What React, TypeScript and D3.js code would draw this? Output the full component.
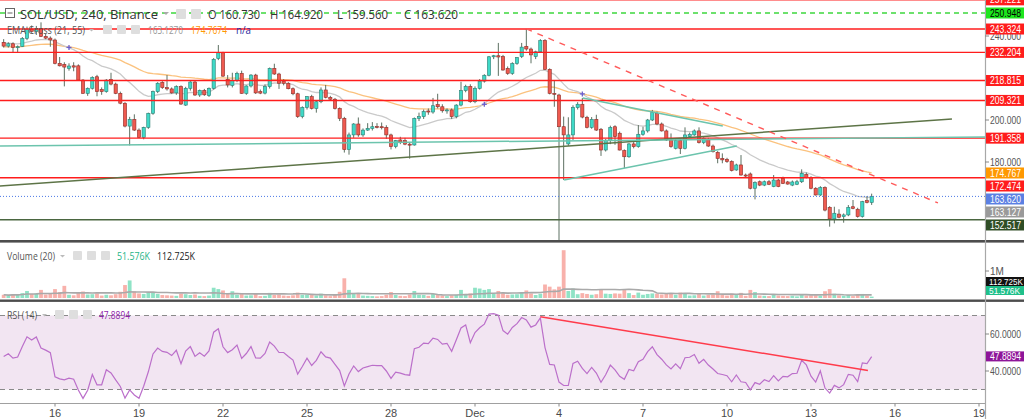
import React from 'react';
import * as d3 from 'd3';

// ---------------- DATA ----------------
// 4h candles, SOL/USD Binance, from 2021-11-14 04:00 UTC : [open, high, low, close]
const ohlc: [number, number, number, number][] = [
  [237.0, 238.5, 234.5, 235.2], [235.2, 237.0, 234.5, 236.3], [236.3, 237.0, 231.9, 234.5], [234.5, 235.5, 232.0, 234.9],
  [235.0, 239.5, 234.8, 238.9], [238.9, 244.5, 238.0, 243.3], [243.3, 245.0, 241.5, 242.2], [242.2, 244.8, 240.5, 243.6],
  [243.6, 246.5, 239.5, 239.8], [239.8, 241.0, 238.5, 239.0], [239.0, 239.8, 234.9, 238.1], [238.1, 238.8, 226.5, 227.0],
  [227.0, 230.0, 225.5, 225.8], [226.5, 227.5, 216.0, 225.2], [224.6, 227.0, 223.5, 225.7], [225.8, 227.5, 223.2, 225.2],
  [225.8, 226.5, 218.8, 219.0], [219.0, 219.5, 212.5, 212.7], [212.7, 215.5, 211.5, 215.1], [215.1, 220.8, 214.5, 220.3],
  [220.6, 221.5, 211.3, 213.5], [214.5, 215.5, 212.0, 213.5], [213.5, 219.5, 213.0, 219.0], [219.3, 222.5, 216.5, 217.1],
  [217.1, 217.8, 212.3, 212.7], [212.7, 213.5, 207.5, 208.0], [207.9, 208.5, 196.5, 197.1], [197.1, 201.5, 187.9, 200.3],
  [200.3, 202.7, 194.8, 195.2], [195.2, 196.0, 191.5, 191.7], [191.7, 196.8, 190.8, 196.5], [196.5, 203.5, 195.8, 203.2],
  [203.2, 214.0, 202.5, 213.5], [213.5, 218.0, 212.8, 217.5], [217.9, 218.5, 214.8, 215.4], [215.4, 221.4, 214.0, 214.8],
  [214.8, 215.5, 212.5, 212.9], [212.9, 216.5, 212.0, 215.9], [215.9, 216.5, 207.2, 207.6], [207.1, 215.8, 206.7, 215.1],
  [215.1, 218.5, 214.0, 218.1], [218.1, 218.8, 211.5, 211.9], [211.9, 214.5, 211.0, 214.1], [214.1, 214.8, 211.5, 212.0],
  [211.6, 215.5, 211.0, 215.1], [215.1, 229.5, 214.5, 228.9], [229.3, 235.7, 228.5, 232.0], [232.0, 232.5, 220.5, 220.9],
  [219.3, 221.4, 215.5, 216.7], [216.5, 222.5, 215.5, 218.8], [218.8, 223.0, 218.0, 222.2], [222.2, 223.5, 212.5, 212.7],
  [212.7, 216.5, 212.0, 216.2], [216.2, 221.8, 215.5, 221.4], [221.4, 222.0, 212.4, 212.9], [213.5, 214.5, 212.3, 212.8],
  [212.8, 217.0, 212.2, 215.9], [215.9, 225.0, 215.0, 224.6], [224.6, 226.8, 221.5, 221.9], [221.9, 222.5, 214.8, 217.5],
  [218.5, 219.5, 216.5, 217.5], [217.5, 218.0, 214.6, 214.9], [214.9, 215.5, 211.8, 212.5], [212.5, 213.0, 201.0, 201.6],
  [201.6, 206.5, 200.8, 206.0], [206.0, 211.4, 205.0, 211.1], [211.1, 212.0, 205.0, 205.5], [205.5, 209.0, 203.5, 208.7],
  [208.7, 215.5, 208.0, 214.3], [214.3, 216.7, 210.3, 210.8], [210.8, 211.5, 209.5, 209.9], [209.9, 210.5, 205.0, 205.5],
  [205.5, 206.0, 199.5, 200.8], [200.8, 201.5, 184.5, 185.9], [185.9, 194.0, 183.5, 192.9], [192.9, 198.5, 191.5, 198.1],
  [198.1, 201.2, 192.0, 192.9], [192.9, 196.0, 192.0, 195.2], [195.2, 198.5, 194.8, 196.0], [196.0, 199.0, 195.0, 196.8],
  [196.9, 198.5, 196.0, 196.5], [196.8, 198.8, 195.5, 196.5], [196.5, 197.5, 191.0, 192.9], [192.9, 193.5, 186.0, 187.3],
  [187.3, 190.5, 186.5, 190.2], [190.5, 192.0, 188.5, 189.5], [190.2, 191.5, 188.0, 188.5], [188.5, 189.5, 181.6, 188.1],
  [188.1, 201.2, 187.8, 200.8], [200.8, 203.5, 199.5, 201.6], [201.6, 205.0, 200.5, 204.0], [204.3, 205.5, 202.5, 203.8],
  [203.8, 210.5, 203.0, 206.8], [207.3, 212.5, 205.5, 206.3], [206.3, 207.5, 203.5, 204.4], [204.4, 205.5, 203.0, 204.8],
  [204.8, 205.5, 200.5, 201.6], [201.6, 207.5, 200.8, 207.1], [207.1, 218.2, 206.5, 214.0], [214.0, 216.8, 213.2, 216.0],
  [216.0, 217.0, 208.2, 208.7], [208.7, 216.0, 208.0, 215.1], [215.1, 219.5, 214.5, 218.5], [218.5, 221.8, 217.8, 221.3],
  [221.3, 230.5, 220.8, 230.1], [230.1, 231.0, 229.0, 230.6], [230.6, 236.7, 221.0, 230.0], [230.2, 231.0, 223.5, 223.8],
  [224.6, 225.5, 221.5, 222.2], [222.2, 227.5, 221.5, 226.9], [226.9, 230.0, 226.3, 229.7], [230.2, 236.7, 229.5, 234.7],
  [235.1, 243.4, 233.0, 233.8], [233.8, 234.5, 227.0, 231.0], [230.2, 233.0, 229.0, 232.5], [232.5, 238.5, 232.0, 237.8],
  [237.8, 238.5, 223.8, 224.1], [224.1, 224.6, 212.2, 212.7], [212.7, 219.0, 206.3, 212.3], [211.9, 212.5, 120.0, 196.8],
  [196.8, 201.6, 171.4, 192.9], [188.6, 201.3, 187.7, 192.9], [192.9, 207.0, 190.5, 206.0], [205.9, 208.5, 205.0, 207.5],
  [207.5, 210.5, 200.8, 201.4], [201.3, 202.0, 196.0, 196.5], [196.5, 201.4, 195.8, 200.3], [200.3, 202.5, 194.8, 195.2],
  [195.6, 196.2, 182.9, 185.7], [185.7, 191.0, 185.0, 190.2], [190.2, 197.3, 188.5, 196.5], [196.8, 197.5, 188.2, 192.1],
  [193.7, 194.5, 185.5, 185.7], [185.4, 186.0, 177.1, 182.5], [182.5, 189.0, 182.0, 188.6], [188.6, 189.5, 186.5, 187.3],
  [187.3, 197.6, 186.8, 193.2], [193.2, 196.8, 192.5, 194.8], [194.8, 200.5, 194.0, 200.0], [200.0, 204.8, 199.5, 203.5],
  [203.2, 204.0, 197.5, 198.1], [198.1, 198.8, 194.5, 194.8], [194.8, 195.5, 190.0, 190.5], [190.5, 193.6, 186.8, 187.3],
  [186.5, 190.8, 186.0, 190.2], [190.2, 190.8, 183.8, 186.5], [186.5, 196.5, 186.0, 192.9], [192.1, 194.0, 191.5, 193.2],
  [192.9, 195.5, 192.5, 194.8], [194.8, 196.5, 188.8, 189.2], [189.2, 191.8, 188.5, 191.3], [190.8, 191.5, 187.2, 187.6],
  [187.6, 188.3, 184.5, 184.9], [184.6, 185.2, 179.4, 181.7], [181.7, 184.1, 179.4, 181.0], [181.3, 182.0, 179.6, 180.2],
  [180.2, 180.8, 175.5, 175.9], [176.2, 179.2, 175.8, 178.6], [178.6, 183.3, 173.5, 173.8], [173.8, 174.5, 172.8, 173.3],
  [174.3, 175.0, 167.0, 167.5], [167.5, 170.8, 162.2, 170.2], [170.6, 171.2, 168.5, 169.0], [169.0, 171.2, 168.5, 170.6],
  [170.6, 171.4, 169.0, 169.4], [168.3, 173.8, 168.0, 171.4], [171.4, 172.0, 168.0, 168.3], [172.2, 173.0, 169.5, 169.8],
  [170.5, 171.0, 169.2, 169.5], [169.0, 171.2, 168.5, 170.5], [169.4, 171.5, 169.0, 170.6], [170.6, 176.5, 170.0, 174.6],
  [174.1, 175.0, 172.2, 172.7], [172.7, 173.2, 167.0, 167.5], [167.5, 168.0, 164.0, 164.3], [164.3, 168.5, 163.8, 167.8],
  [167.8, 168.4, 156.5, 157.1], [158.4, 159.0, 149.2, 152.9], [152.9, 158.7, 150.8, 155.6], [155.2, 157.5, 153.2, 153.7],
  [154.0, 155.5, 151.1, 154.8], [154.8, 159.5, 154.2, 158.4], [158.7, 161.9, 157.5, 157.9], [157.5, 158.2, 153.5, 154.0],
  [154.0, 161.5, 153.5, 161.1], [161.6, 163.8, 160.3, 160.73], [160.73, 164.92, 159.56, 163.62],
];

// volume per candle, thousands
const volumesK: number[] = [
  120, 90, 140, 110, 180, 260, 150, 170, 300, 130,
  160, 330, 220, 450, 120, 100, 210, 240, 130, 140,
  170, 90, 120, 100, 140, 230, 480, 650, 250, 170,
  150, 200, 220, 150, 110, 100, 90, 80, 160, 140,
  110, 130, 80, 70, 90, 380, 330, 280, 150, 250,
  120, 160, 90, 100, 150, 70, 80, 190, 110, 130,
  90, 80, 100, 200, 120, 130, 110, 90, 160, 100,
  70, 120, 230, 730, 300, 160, 170, 90, 80, 70,
  60, 70, 120, 220, 110, 80, 70, 130, 260, 120,
  110, 80, 150, 110, 90, 70, 100, 120, 300, 150,
  170, 380, 350, 300, 330, 150, 260, 180, 120, 130,
  140, 200, 280, 170, 110, 160, 500, 420, 320, 420,
  1770, 260, 350, 140, 180, 150, 120, 140, 300, 160,
  150, 170, 160, 320, 180, 110, 200, 120, 150, 170,
  160, 130, 150, 170, 120, 200, 180, 90, 100, 160,
  90, 110, 130, 250, 110, 90, 160, 110, 190, 80,
  300, 220, 90, 80, 70, 110, 90, 80, 70, 80,
  60, 140, 90, 100, 100, 80, 250, 330, 160, 100,
  80, 110, 70, 120, 150, 90, 51.576,
];

const startTime = Date.UTC(2021, 10, 14, 4);
const barMs = 4 * 3600 * 1000;

// red horizontal levels drawn on chart
const redLevels = [257.221, 243.324, 232.204, 218.815, 209.321, 191.358, 172.474];
const targetLevel = 250.948;
const supportLevel = 152.517;
const lastPrice = 163.62;
const ema21Last = 163.127;
const ema55Last = 174.767;
const priceTicks = [180, 200, 240];
const rsiTicks = [40, 60];
const rsiLast = 47.8894;
const volLastK = 51.576;
const volMaLastK = 112.725;
const ema21Seed = 236.7;
const ema55Seed = 234.8;
const rsiSeedGain = 1.5;
const rsiSeedLoss = 1.5;

// drawings as [barIndex, value]
const redTrend: [number, number][] = [[112, 243.4], [200.2, 160.5]];
const oliveTrend: [number, number][] = [[-0.8, 168.6], [203.2, 200.5]];
const tealLine: [number, number][] = [[-0.8, 187.6], [210.3, 191.9]];
const triUpper: [number, number][] = [[124.1, 210.5], [154.1, 197.1]];
const triLower: [number, number][] = [[120.1, 171.4], [157.1, 187.6]];
const rsiTrend: [number, number][] = [[115, 69.3], [185.2, 40.3]];

const timeTickStart = Date.UTC(2021, 10, 16);
const timeTickEnd = Date.UTC(2021, 11, 19);

// ---------------- STYLE ----------------
const RED = '#ff1c1c';
const UP_FILL = '#3fd9c7', UP_STROKE = '#2b7d72';
const DN_FILL = '#ef5a50', DN_STROKE = '#8c2d27';
const WICK = '#5d7062';
const AXIS_X = 985;
const FONT = "'Liberation Sans', Arial, sans-serif";
const UI_FONT = "'Open Sans', 'Noto Sans', sans-serif";

export default function App() {
  React.useEffect(() => {
    document.body.style.margin = '0';
  }, []);

  const x = d3.scaleUtc().domain([new Date(timeTickStart), new Date(timeTickEnd)]).range([55, 979]);
  const xb = (i: number) => x(new Date(startTime + i * barMs));
  const y = d3.scaleLinear().domain([200, 240]).range([120, 36]);
  const yv = d3.scaleLinear().domain([0, 1000]).range([298, 271]);
  const yr = d3.scaleLinear().domain([30, 70]).range([389.5, 315.5]);

  // indicators
  const closes = ohlc.map((d) => d[3]);
  const ema21: number[] = [];
  const ema55: number[] = [];
  let e21 = ema21Seed, e55 = ema55Seed;
  closes.forEach((c) => {
    e21 = e21 + (c - e21) * (2 / 22);
    e55 = e55 + (c - e55) * (2 / 56);
    ema21.push(e21);
    ema55.push(e55);
  });
  const crosses: number[] = [];
  for (let i = 1; i < closes.length; i++) {
    const a = ema21[i - 1] - ema55[i - 1];
    const b = ema21[i] - ema55[i];
    if ((a > 0) !== (b > 0)) crosses.push(i);
  }
  const rsi: number[] = [];
  let ag = rsiSeedGain, al = rsiSeedLoss, prev = ohlc[0][0];
  closes.forEach((c) => {
    const ch = c - prev;
    ag = (ag * 13 + Math.max(ch, 0)) / 14;
    al = (al * 13 + Math.max(-ch, 0)) / 14;
    rsi.push(100 - 100 / (1 + ag / al));
    prev = c;
  });
  const volMa = volumesK.map((_, i) => {
    const s = volumesK.slice(Math.max(0, i - 19), i + 1);
    return d3.mean(s) as number;
  });

  const line = d3.line<number>().x((_, i) => xb(i));
  const emaPath = (arr: number[]) => line.y((v) => y(v))(arr) as string;
  const rsiPath = line.y((v) => yr(v))(rsi) as string;
  const volMaPath = d3.line<number>().x((_, i) => xb(i)).y((v) => yv(v))(volMa) as string;

  const seg = (pts: [number, number][], ys: (v: number) => number) => ({
    x1: xb(pts[0][0]), y1: ys(pts[0][1]), x2: xb(pts[1][0]), y2: ys(pts[1][1]),
  });

  // right axis price labels with stacking
  type Lab = { v: number; bg: string; fg: string; yy: number };
  const labs: Lab[] = [
    ...redLevels.map((v) => ({ v, bg: RED, fg: '#fff', yy: y(v) })),
    { v: targetLevel, bg: '#1ee61e', fg: '#000', yy: y(targetLevel) },
    { v: ema55Last, bg: '#ff9800', fg: '#fff', yy: y(ema55Last) },
    { v: lastPrice, bg: '#5b80e3', fg: '#fff', yy: y(lastPrice) },
    { v: ema21Last, bg: '#9a9a9a', fg: '#fff', yy: y(ema21Last) },
    { v: supportLevel, bg: '#2f4d25', fg: '#fff', yy: y(supportLevel) },
  ].sort((a, b) => a.yy - b.yy);
  for (let i = 1; i < labs.length; i++) {
    labs[i].yy = Math.max(labs[i].yy, labs[i - 1].yy + 13);
  }

  const timeTicks = x.ticks(d3.utcDay.every(3) as d3.CountableTimeInterval);
  const fmtTick = (d: Date) => (d.getUTCDate() === 1 ? d3.utcFormat('%b')(d) : String(d.getUTCDate()));

  const bw = 3.2;

  const Icon = ({ x0, y0, s = 9 }: { x0: number; y0: number; s?: number }) => (
    <rect x={x0} y={y0} width={s} height={s} rx={1} fill="#dedede" />
  );

  const volGreenY = Math.min(yv(volLastK), 298 - 7.5);
  const volBlackY = Math.min(yv(volMaLastK), volGreenY - 9);

  return (
    <svg width={1024} height={419} style={{ position: 'absolute', left: 0, top: 0, background: '#fff' }} fontFamily={FONT}>
      <defs>
        <clipPath id="pricePane"><rect x={0} y={0} width={AXIS_X} height={240} /></clipPath>
        <clipPath id="volPane"><rect x={0} y={243} width={AXIS_X} height={56} /></clipPath>
        <clipPath id="rsiPane"><rect x={0} y={302} width={AXIS_X} height={101} /></clipPath>
      </defs>
      <rect x={0} y={0} width={1024} height={419} fill="#fff" />

      {/* ---------- price pane ---------- */}
      <g clipPath="url(#pricePane)">
        {/* EMAs */}
        <path d={emaPath(ema55)} fill="none" stroke="#fbc27e" strokeWidth={1.3} />
        <path d={emaPath(ema21)} fill="none" stroke="#cacaca" strokeWidth={1.3} />
        {/* candles */}
        {ohlc.map((d, i) => {
          const [o, h, l, c] = d;
          const up = c >= o;
          const cx = xb(i);
          const top = y(Math.max(o, c));
          const bot = y(Math.min(o, c));
          return (
            <g key={i}>
              <line x1={cx} x2={cx} y1={y(h)} y2={y(l)} stroke={WICK} strokeWidth={1} />
              <rect x={cx - bw / 2} y={top} width={bw} height={Math.max(1, bot - top)}
                fill={up ? UP_FILL : DN_FILL} stroke={up ? UP_STROKE : DN_STROKE} strokeWidth={0.6} />
            </g>
          );
        })}
        {/* drawings */}
        {redLevels.map((v) => (
          <line key={v} x1={0} x2={AXIS_X} y1={y(v)} y2={y(v)} stroke={RED} strokeWidth={1.4} />
        ))}
        <line x1={0} x2={AXIS_X} y1={y(targetLevel)} y2={y(targetLevel)} stroke="#3ed83e" strokeWidth={1.4} strokeDasharray="5,4" />
        <line x1={0} x2={AXIS_X} y1={y(supportLevel)} y2={y(supportLevel)} stroke="#4a6640" strokeWidth={1.4} />
        <line x1={0} x2={AXIS_X} y1={y(lastPrice)} y2={y(lastPrice)} stroke="#4a78e6" strokeWidth={1} strokeDasharray="1,2" />
        <line {...seg(oliveTrend, y)} stroke="#5d7447" strokeWidth={1.5} />
        <line {...seg(tealLine, y)} stroke="#6cc4ad" strokeWidth={1.5} />
        <line {...seg(triUpper, y)} stroke="#6cc4ad" strokeWidth={1.5} />
        <line {...seg(triLower, y)} stroke="#6cc4ad" strokeWidth={1.5} />
        <line {...seg(redTrend, y)} stroke="#ff5a5a" strokeWidth={1.4} strokeDasharray="6,6" />
        {/* EMA cross markers */}
        {crosses.map((i) => {
          const cx = xb(i);
          const cy = y((ema21[i] + ema55[i]) / 2);
          return (
            <g key={'x' + i} stroke="#6a5fd0" strokeWidth={1.3}>
              <line x1={cx - 2.5} x2={cx + 2.5} y1={cy} y2={cy} />
              <line x1={cx} x2={cx} y1={cy - 2.5} y2={cy + 2.5} />
            </g>
          );
        })}
      </g>

      {/* legend row 1 */}
      <g fontFamily={UI_FONT}>
        <rect x={5.5} y={8.5} width={9} height={9} fill="#fff" stroke="#666" strokeWidth={1} />
        <line x1={7.5} x2={12.5} y1={13} y2={13} stroke="#666" strokeWidth={1} />
        <text x={20} y={18.5} fontSize={13} fill="#333" textLength={138} lengthAdjust="spacingAndGlyphs">SOL/USD, 240, Binance</text>
        <path d="M163,12 L169,12 L166,15 Z" fill="#aaa" />
        <Icon x0={176} y0={9} s={10} />
        <Icon x0={191} y0={9} s={10} />
        <text x={208} y={18.5} fontSize={12} fill="#333" textLength={52} lengthAdjust="spacingAndGlyphs">O 160.730</text>
        <text x={270} y={18.5} fontSize={12} fill="#333" textLength={53} lengthAdjust="spacingAndGlyphs">H 164.920</text>
        <text x={337} y={18.5} fontSize={12} fill="#333" textLength={51} lengthAdjust="spacingAndGlyphs">L 159.560</text>
        <text x={404} y={18.5} fontSize={12} fill="#333" textLength={54} lengthAdjust="spacingAndGlyphs">C 163.620</text>
        {/* legend row 2 */}
        <text x={7} y={33.5} fontSize={11} fill="#555" textLength={78} lengthAdjust="spacingAndGlyphs">EMA Cross (21, 55)</text>
        <path d="M89,29 L94,29 L91.5,31.5 Z" fill="#bbb" />
        <Icon x0={103} y0={25} />
        <Icon x0={117} y0={25} />
        <Icon x0={131} y0={25} />
        <text x={148} y={33.5} fontSize={11} fill="#9a9a9a" textLength={35} lengthAdjust="spacingAndGlyphs">163.1270</text>
        <text x={191} y={33.5} fontSize={11} fill="#ff9800" textLength={36} lengthAdjust="spacingAndGlyphs">174.7674</text>
        <text x={236} y={33.5} fontSize={11} fill="#2a2aa0" textLength={15} lengthAdjust="spacingAndGlyphs">n/a</text>
      </g>

      {/* ---------- volume pane ---------- */}
      <g clipPath="url(#volPane)">
        {volumesK.map((v, i) => {
          const up = ohlc[i][3] >= ohlc[i][0];
          return (
            <rect key={i} x={xb(i) - 1.9} y={yv(v)} width={3.8} height={298 - yv(v)}
              fill={up ? '#8fe3c6' : '#f8b1ab'} />
          );
        })}
        <path d={volMaPath} fill="none" stroke="#a9a9a9" strokeWidth={1.6} />
      </g>
      <g fontFamily={UI_FONT}>
        <text x={7} y={260} fontSize={11} fill="#555" textLength={48} lengthAdjust="spacingAndGlyphs">Volume (20)</text>
        <path d="M60,255 L65,255 L62.5,257.5 Z" fill="#bbb" />
        <Icon x0={73} y0={251} />
        <Icon x0={87} y0={251} />
        <Icon x0={101} y0={251} />
        <text x={117} y={260} fontSize={11} fill="#1fb587" textLength={33} lengthAdjust="spacingAndGlyphs">51.576K</text>
        <text x={157} y={260} fontSize={11} fill="#222" textLength={38} lengthAdjust="spacingAndGlyphs">112.725K</text>
      </g>

      {/* ---------- RSI pane ---------- */}
      <g clipPath="url(#rsiPane)">
        <rect x={0} y={yr(70)} width={AXIS_X} height={yr(30) - yr(70)} fill="#f2e5f2" />
        <line x1={0} x2={AXIS_X} y1={yr(70)} y2={yr(70)} stroke="#8a8a8a" strokeDasharray="5,4" />
        <line x1={0} x2={AXIS_X} y1={yr(30)} y2={yr(30)} stroke="#8a8a8a" strokeDasharray="5,4" />
        <path d={rsiPath} fill="none" stroke="#bb6fca" strokeWidth={1.2} />
        <line {...seg(rsiTrend, yr)} stroke="#ff3b4b" strokeWidth={1.5} />
      </g>
      <g fontFamily={UI_FONT}>
        <text x={7} y={319} fontSize={11} fill="#555" textLength={30} lengthAdjust="spacingAndGlyphs">RSI (14)</text>
        <path d="M42,314 L47,314 L44.5,316.5 Z" fill="#bbb" />
        <Icon x0={55} y0={310} />
        <Icon x0={69} y0={310} />
        <Icon x0={83} y0={310} />
        <text x={99} y={319} fontSize={11} fill="#8e24aa" textLength={31} lengthAdjust="spacingAndGlyphs">47.8894</text>
      </g>

      {/* pane separators */}
      <rect x={0} y={240} width={1024} height={2.6} fill="#4d4d4d" />
      <rect x={0} y={299.5} width={1024} height={2.4} fill="#4d4d4d" />

      {/* ---------- time axis ---------- */}
      <line x1={0} x2={AXIS_X} y1={403.5} y2={403.5} stroke="#a0a0a0" strokeWidth={1} />
      {timeTicks.map((d) => (
        <g key={d.getTime()}>
          <line x1={x(d)} x2={x(d)} y1={403.5} y2={406.5} stroke="#888" />
          <text x={x(d)} y={416.5} fontSize={11} fill="#4a4a4a" textAnchor="middle">{fmtTick(d)}</text>
        </g>
      ))}

      {/* ---------- right axis ---------- */}
      <line x1={AXIS_X + 0.5} x2={AXIS_X + 0.5} y1={0} y2={419} stroke="#a8a8a8" strokeWidth={1.2} />
      {priceTicks.map((v) => (
        <g key={'p' + v}>
          <line x1={AXIS_X} x2={AXIS_X + 4} y1={y(v)} y2={y(v)} stroke="#888" />
          <text x={990} y={y(v)} dy="0.35em" fontSize={10} fill="#555" textLength={31} lengthAdjust="spacingAndGlyphs">{v.toFixed(3)}</text>
        </g>
      ))}
      {labs.map((l) => (
        <g key={'l' + l.v}>
          <rect x={AXIS_X + 1} y={l.yy - 5.5} width={1024 - AXIS_X - 1} height={11} fill={l.bg} />
          <text x={990} y={l.yy} dy="0.36em" fontSize={10} fill={l.fg} textLength={31} lengthAdjust="spacingAndGlyphs">{l.v.toFixed(3)}</text>
        </g>
      ))}
      {/* volume axis */}
      <line x1={AXIS_X} x2={AXIS_X + 4} y1={yv(1000)} y2={yv(1000)} stroke="#888" />
      <text x={990} y={yv(1000)} dy="0.35em" fontSize={10} fill="#555">1M</text>
      <rect x={AXIS_X + 1} y={volBlackY - 4.5} width={38} height={9} fill="#111" />
      <text x={989} y={volBlackY} dy="0.36em" fontSize={9} fill="#fff" textLength={34} lengthAdjust="spacingAndGlyphs">{volMaLastK.toFixed(3) + 'K'}</text>
      <rect x={AXIS_X + 1} y={volGreenY - 4.5} width={38} height={9} fill="#1fc08a" />
      <text x={989} y={volGreenY} dy="0.36em" fontSize={9} fill="#fff" textLength={31} lengthAdjust="spacingAndGlyphs">{volLastK.toFixed(3) + 'K'}</text>
      {/* rsi axis */}
      {rsiTicks.map((v) => (
        <g key={'r' + v}>
          <line x1={AXIS_X} x2={AXIS_X + 4} y1={yr(v)} y2={yr(v)} stroke="#888" />
          <text x={990} y={yr(v)} dy="0.35em" fontSize={10} fill="#555" textLength={31} lengthAdjust="spacingAndGlyphs">{v.toFixed(4)}</text>
        </g>
      ))}
      <rect x={AXIS_X + 1} y={yr(rsiLast) - 5} width={38} height={10} fill="#8e1599" />
      <text x={990} y={yr(rsiLast)} dy="0.36em" fontSize={10} fill="#fff" textLength={31} lengthAdjust="spacingAndGlyphs">{rsiLast.toFixed(4)}</text>
    </svg>
  );
}
